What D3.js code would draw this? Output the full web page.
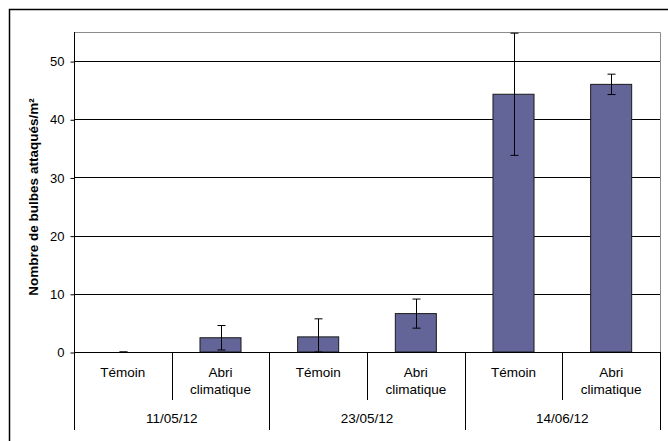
<!DOCTYPE html>
<html><head><meta charset="utf-8">
<script src="https://cdn.jsdelivr.net/npm/d3@7"></script>
<style>body{margin:0;background:#fff}svg{display:block}text{font-family:"Liberation Sans",Arial,sans-serif}</style>
</head><body><svg id="c" width="668" height="441"></svg>
<script>
const dates = ["11/05/12", "23/05/12", "14/06/12"];
const treatments = ["Témoin", "Abri climatique"];
const values = [0, 2.45, 2.6, 6.6, 44.3, 46.0];
const errors = [0, 2.1, 3.1, 2.5, 10.5, 1.75];
const yTicks = [0, 10, 20, 30, 40, 50];

const svg = d3.select("#c");
const L = 74, R = 660, T = 32, B = 352;
const cats = [];
dates.forEach(d => treatments.forEach(t => cats.push(d + "|" + t)));

const x = d3.scaleBand().domain(cats).range([L, R]).paddingInner(0).paddingOuter(0);
const y = d3.scaleLinear().domain([0, 55]).range([B, T]);

// outer border
svg.append("rect").attr("x", 9.5).attr("y", 9.5).attr("width", 720).attr("height", 500)
  .attr("fill", "none").attr("stroke", "#000").attr("stroke-width", 1.5);

// plot frame (top/right gray)
svg.append("path").attr("d", `M${L},${T+0.5}H${R+0.5}V${B}`).attr("fill", "none").attr("stroke", "#8c8c8c").attr("stroke-width", 1);

// gridlines
svg.append("g").selectAll("line").data(yTicks.filter(v => v > 0)).join("line")
  .attr("x1", L).attr("x2", R).attr("y1", d => Math.round(y(d)) + 0.5).attr("y2", d => Math.round(y(d)) + 0.5)
  .attr("stroke", "#000").attr("stroke-width", 1);

// y axis
const yAxis = d3.axisLeft(y).tickValues(yTicks).tickSize(4).tickPadding(6);
const gy = svg.append("g").attr("transform", `translate(${L + 0.5},0.5)`).call(yAxis);
gy.select(".domain").remove();
gy.selectAll(".tick line").attr("stroke", "#000");
gy.selectAll(".tick text").attr("font-size", 13).attr("fill", "#000").attr("font-family", "Liberation Sans, Arial, sans-serif");
svg.append("line").attr("x1", L + 0.5).attr("x2", L + 0.5).attr("y1", T).attr("y2", 430).attr("stroke", "#000");

// bars
const data = cats.map((c, i) => ({c, v: values[i], e: errors[i]}));
svg.append("g").selectAll("rect").data(data).join("rect")
  .attr("x", d => x(d.c) + x.bandwidth() * 0.29)
  .attr("width", x.bandwidth() * 0.42)
  .attr("y", d => y(d.v))
  .attr("height", d => Math.max(0, y(0) - y(d.v)))
  .attr("fill", "#636497").attr("stroke", "#1a1a1a").attr("stroke-width", 1);

// x baseline
svg.append("line").attr("x1", L).attr("x2", R + 0.5).attr("y1", B + 0.5).attr("y2", B + 0.5).attr("stroke", "#000");

// error bars
const eg = svg.append("g").attr("stroke", "#000").attr("stroke-width", 1);
data.forEach(d => {
  const cx = Math.round(x(d.c) + x.bandwidth() / 2) + 0.5;
  const top = Math.max(T + 0.5, y(d.v + d.e));
  const bot = y(Math.max(0, d.v - d.e));
  eg.append("line").attr("x1", cx).attr("x2", cx).attr("y1", top).attr("y2", bot);
  eg.append("line").attr("x1", cx - 4).attr("x2", cx + 4).attr("y1", top).attr("y2", top);
  eg.append("line").attr("x1", cx - 4).attr("x2", cx + 4).attr("y1", bot).attr("y2", bot);
});

// category dividers
const dg = svg.append("g").attr("stroke", "#000");
cats.forEach((c, i) => {
  if (i === 0) return;
  const xx = Math.round(x(c)) + 0.5;
  dg.append("line").attr("x1", xx).attr("x2", xx).attr("y1", B).attr("y2", i % 2 === 0 ? 430 : 400);
});
dg.append("line").attr("x1", R + 0.5).attr("x2", R + 0.5).attr("y1", B).attr("y2", 430);

// category labels
const tg = svg.append("g").attr("font-size", 13.5).attr("fill", "#000").attr("text-anchor", "middle");
cats.forEach(c => {
  const cx = x(c) + x.bandwidth() / 2;
  const t = c.split("|")[1];
  if (t === "Témoin") {
    tg.append("text").attr("x", cx).attr("y", 377).text(t);
  } else {
    const parts = t.split(" ");
    tg.append("text").attr("x", cx).attr("y", 377).text(parts[0]);
    tg.append("text").attr("x", cx).attr("y", 393.5).text(parts[1]);
  }
});
dates.forEach((d, i) => {
  const cx = x(d + "|" + treatments[0]) + x.bandwidth();
  tg.append("text").attr("x", cx).attr("y", 423).text(d);
});

// y title
svg.append("text").attr("transform", "translate(37.5,197) rotate(-90)").attr("text-anchor", "middle")
  .attr("font-size", 13.5).attr("font-weight", "bold").attr("fill", "#000").text("Nombre de bulbes attaqués/m²");
</script></body></html>
